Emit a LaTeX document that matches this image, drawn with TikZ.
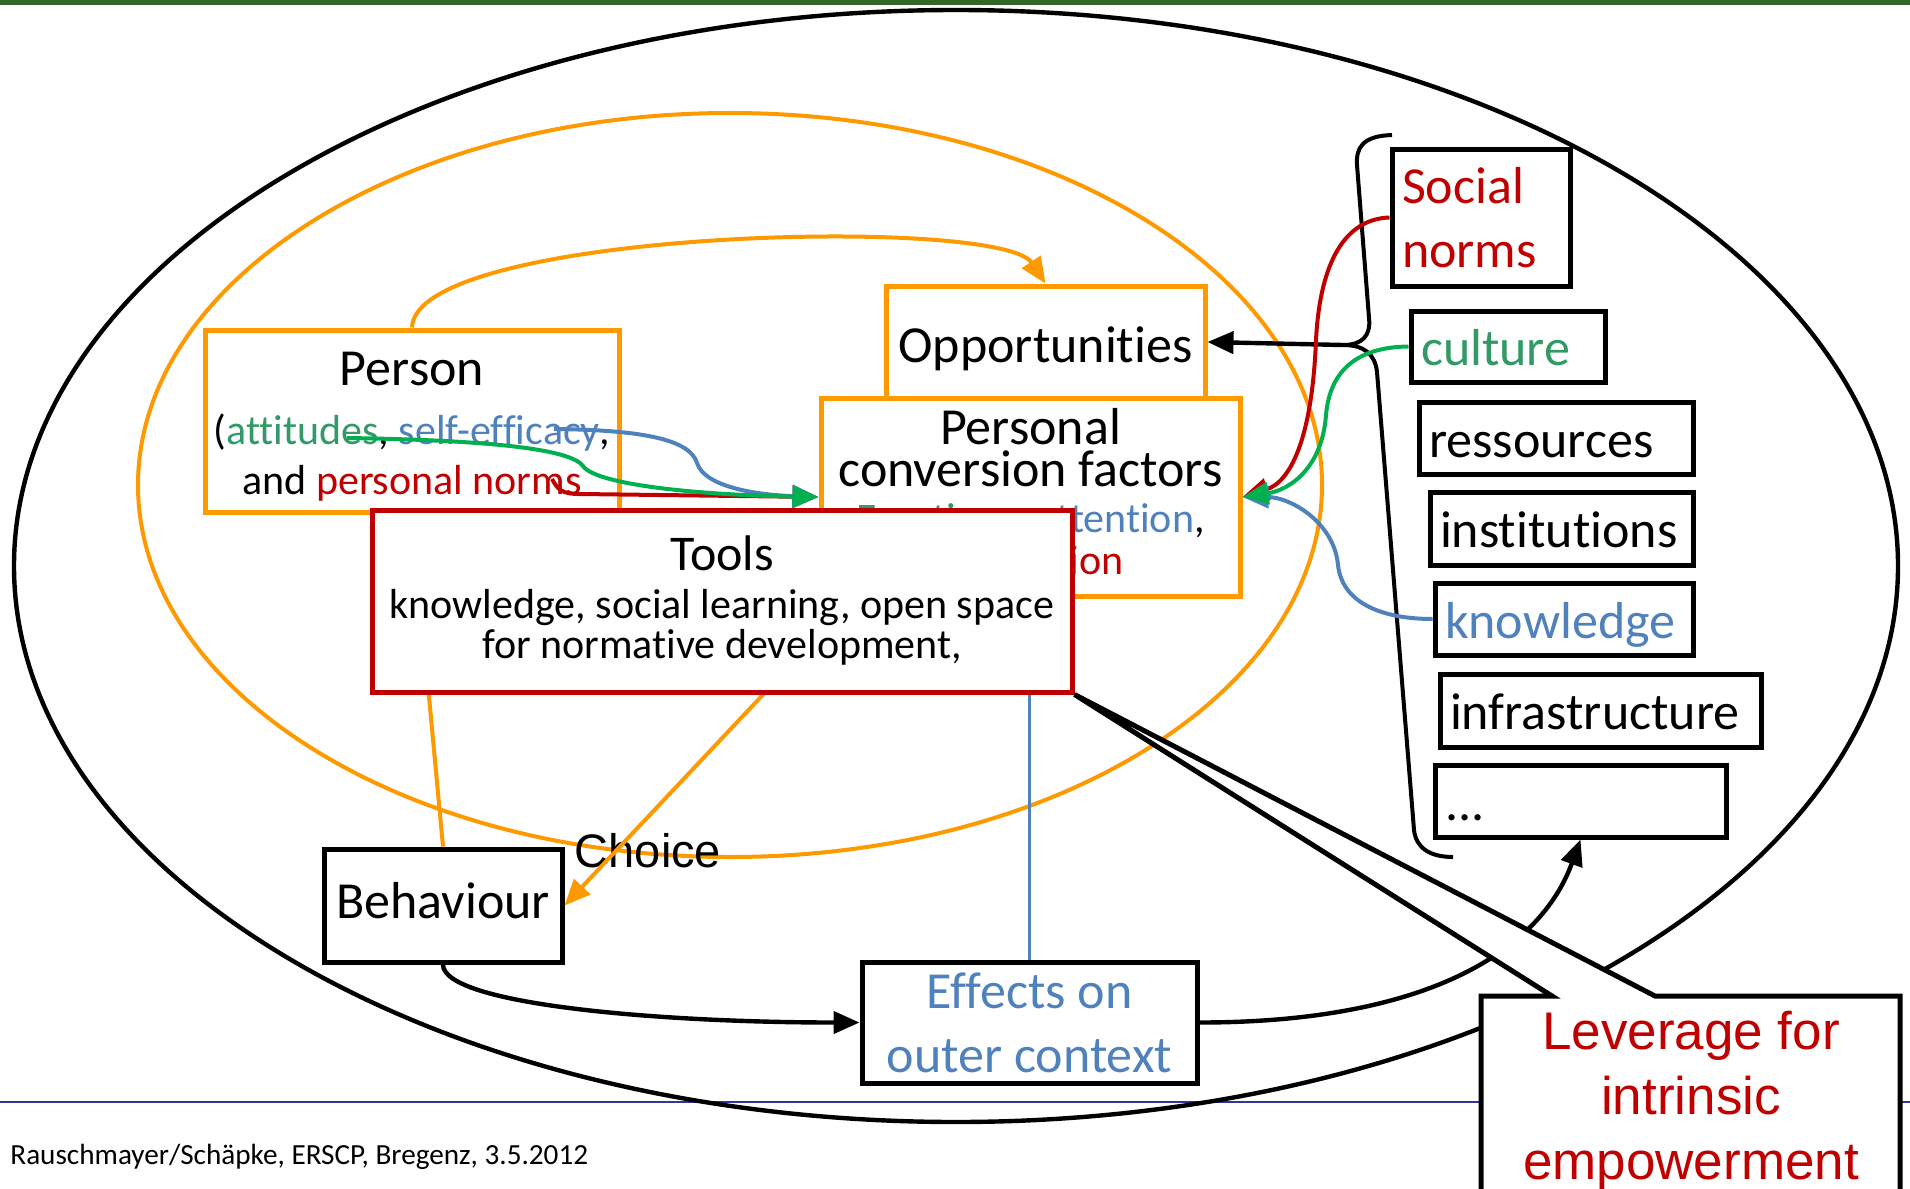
\documentclass[tikz,border=0pt]{standalone}
\usepackage{fontspec}
\setmainfont{Carlito}[Ligatures=NoCommon]
\newfontfamily\arialfont{Liberation Sans}
\usetikzlibrary{arrows.meta}
\definecolor{frameorange}{RGB}{255,153,0}
\definecolor{toolred}{RGB}{192,0,0}
\definecolor{txtgreen}{RGB}{51,153,102}
\definecolor{arrgreen}{RGB}{0,176,80}
\definecolor{txtblue}{RGB}{79,129,189}
\definecolor{barblue}{RGB}{51,51,153}
\definecolor{bargreen}{RGB}{51,102,41}
\newcommand{\bigfont}{\fontsize{26}{32}\selectfont}
\newcommand{\midfont}{\fontsize{21}{25}\selectfont}
\lineskiplimit=-100pt

\begin{document}
\begin{tikzpicture}[x=0.5pt,y=-0.5pt,>={Triangle[length=13pt,width=11pt]}]
        \tikzset{block/.style={draw, line width=2.5pt, fill=white, align=center, inner sep=0pt},
        oblock/.style={block, draw=frameorange},
        rblock/.style={block, draw=toolred},
        stackbox/.style={block, align=left, inner xsep=5pt, font=\bigfont},
        stackline/.style={stackbox, text height=26pt, text depth=7pt},
        olink/.style={draw=frameorange, line width=2pt},
        clink/.style={line width=2pt},
        blink/.style={line width=2.2pt},
        }
        \useasboundingbox (0,0) rectangle (1910,1188);
%% slide frame
        \fill[bargreen] (0,0) rectangle (1910,5);
        \draw[barblue, line width=1.2pt] (0,1102) -- (1910,1102);
        \node[anchor=west, inner sep=0pt, font=\fontsize{14.6}{17}\selectfont] (footer) at (10,1157) {Rauschmayer/Schäpke, ERSCP, Bregenz, 3.5.2012};
%% context ellipses
        \draw[line width=2.2pt] (956,566) ellipse [x radius=471pt, y radius=278pt];
        \draw[frameorange, line width=2pt] (730,485) ellipse [x radius=296pt, y radius=186pt];
%% inner nodes
        \node[oblock, minimum width=207pt, minimum height=91pt, font=\midfont] (person) at (412,421)
            {{\bigfont\rule{0pt}{22pt}Person}\\[4.5pt](\textcolor{txtgreen}{attitudes}, \textcolor{txtblue}{self-efficacy},\\and \textcolor{toolred}{personal norms}};
        \node[oblock, minimum width=159.5pt, minimum height=56pt, font=\bigfont, text height=26pt, text depth=6pt] (opp) at (1045.5,342) {Opportunities};
        \node[oblock, minimum width=209.5pt, minimum height=99pt, font=\fontsize{21}{21}\selectfont] (pcf) at (1030.5,497)
            {{\bigfont Personal}\\{\bigfont conversion factors}\\[2pt]\textcolor{txtgreen}{Emotions}, \textcolor{txtblue}{attention},\\\textcolor{toolred}{motivation}\rule[-6pt]{0pt}{1pt}};
        \node[block, minimum width=119pt, minimum height=56.5pt, font=\bigfont, text height=22pt, text depth=9pt] (behaviour) at (443,905.5) {Behaviour};
        \node[block, minimum width=167.5pt, minimum height=60.5pt, font=\bigfont, text=txtblue] (effects) at (1029.5,1022.5) {Effects on\\outer context};
        \node[font=\arialfont\fontsize{23.5}{28}\selectfont] (choice) at (648,851) {Choice};
%% paths (orange)
        \draw[olink, ->] (person.north) .. controls (415,230) and (1000,215) .. (opp.north);
        \draw[olink] (person.south) -- (behaviour.north);
        \draw[olink, ->] ([xshift=17.5pt]pcf.south west) -- (behaviour.east);
%% person to conversion factors
        \coordinate (att) at (347,438);
        \coordinate (eff) at (554,429);
        \coordinate (nrm) at (552,479);
        \draw[clink, toolred, ->] (nrm) .. controls (558,490) and (562,494) .. (580,494) -- (pcf.west);
        \draw[clink, txtblue, ->] (eff) .. controls (645,430) and (690,440) .. (697,463) .. controls (705,488) and (760,495) .. (pcf.west);
        \draw[clink, arrgreen, ->] (att) .. controls (480,440) and (570,448) .. (583,466) .. controls (596,485) and (700,495) .. (pcf.west);
%% tools
        \node[rblock, minimum width=350pt, minimum height=91pt, font=\fontsize{21}{20}\selectfont] (tools) at (722,601)
            {{\fontsize{25}{25}\selectfont Tools}\\[4pt]knowledge, social learning, open space\\for normative development,};
        \draw[txtblue, line width=1.6pt] (effects.north |- tools.south) -- (effects.north);
%% outer context
        \node[stackbox, text width=79pt, minimum height=68.5pt, text=toolred] (socnorms) at (1481,217.5) {Social\\norms};
        \node[stackline, text width=87pt, minimum height=35.5pt, text=txtgreen] (culture) at (1508,346.5) {culture};
        \node[stackline, text width=127pt, minimum height=36pt] (ressources) at (1556,438) {ressources};
        \node[stackline, text width=121.5pt, minimum height=36.5pt] (institutions) at (1561.5,528.5) {institutions};
        \node[stackline, text width=119pt, minimum height=36pt, text=txtblue] (knowledge) at (1564,619) {knowledge};
        \node[stackline, text width=150.5pt, minimum height=36.5pt] (infra) at (1600.5,710.5) {infrastructure};
        \node[stackline, text width=135.5pt, minimum height=36pt] (dots) at (1580.5,801) {...};
        \coordinate (bracetip) at (1343,345);
        \draw[line width=2pt] (1392,135) .. controls (1362,136) and (1356,148) .. (1357,165) -- (1369,318)
            .. controls (1371,336) and (1362,345) .. (bracetip)
            .. controls (1364,345) and (1375,354) .. (1377,372) -- (1414,830)
            .. controls (1416,848) and (1430,857) .. (1453,857);
        \draw[blink, ->] (bracetip) -- (opp.east);
        \draw[clink, toolred, ->] (socnorms.west) .. controls (1345,219) and (1320,262) .. (1316,340) .. controls (1312,440) and (1290,482) .. (pcf.east);
        \draw[clink, txtblue, ->] (knowledge.west) .. controls (1382,619) and (1342,603) .. (1338,565) .. controls (1334,522) and (1290,497) .. (pcf.east);
        \draw[clink, arrgreen, ->] (culture.west) .. controls (1360,347) and (1330,368) .. (1326,415) .. controls (1322,468) and (1290,490) .. (pcf.east);
%% effects loop
        \draw[blink, ->] (behaviour.south) .. controls +(0,40) and +(-200,0) .. (effects.west);
        \draw[blink, ->] (effects.east) .. controls +(230,0) and +(-40,110) .. (dots.south);
%% leverage callout
        \coordinate (levcorner) at (1481,996);
        \draw[line width=2.5pt, fill=white] ([yshift=-110pt]levcorner) -- (levcorner) -- ++(71,0) -- (tools.south east)
            -- ([xshift=87pt]levcorner) -- ++(245,0) -- ++(0,220) -- cycle;
        \node[align=center, font=\arialfont\fontsize{26.5}{32.5}\selectfont, text=toolred] (lever) at (1691,1101) {Leverage for\\intrinsic\\empowerment};
    \end{tikzpicture}
\end{document}
